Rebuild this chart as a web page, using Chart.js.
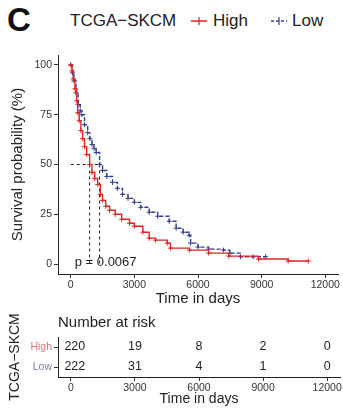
<!DOCTYPE html>
<html>
<head>
<meta charset="utf-8">
<script src="https://cdn.jsdelivr.net/npm/chart.js@4"></script>
<style>
  body { margin:0; width:343px; height:408px; background:#fff; position:relative; overflow:hidden;
         font-family:"Liberation Sans", Arial, sans-serif; color:#222; }
  canvas { position:absolute; left:0; }
  .lbl { position:absolute; white-space:nowrap; }
</style>
</head>
<body>
<div class="lbl" style="left:7px;top:1px;font-size:33px;font-weight:bold;color:#111">C</div>
<div class="lbl" style="left:70px;top:11px;font-size:17px">TCGA−SKCM</div>
<svg class="lbl" style="left:190px;top:14px" width="18" height="14">
  <line x1="1" y1="7" x2="17" y2="7" stroke="#e02424" stroke-width="1.5"/>
  <line x1="9" y1="3" x2="9" y2="11" stroke="#e02424" stroke-width="1.2"/>
</svg>
<div class="lbl" style="left:213px;top:11px;font-size:17px">High</div>
<svg class="lbl" style="left:270px;top:14px" width="18" height="14">
  <line x1="1" y1="7" x2="17" y2="7" stroke="#34418a" stroke-width="1.5" stroke-dasharray="3 2"/>
  <line x1="9" y1="3" x2="9" y2="11" stroke="#34418a" stroke-width="1.2"/>
</svg>
<div class="lbl" style="left:292px;top:11px;font-size:17px">Low</div>

<canvas id="km" width="343" height="310" style="top:0"></canvas>
<canvas id="risk" width="343" height="98" style="top:310px"></canvas>

<script>
// survival curves (time in days, survival %)
const highTime = [0, 60, 120, 200, 280, 330, 400, 480, 560, 650, 750, 890, 1000, 1130, 1270, 1400, 1500, 1650, 1830, 2100, 2400, 2770, 3000, 3400, 3700, 4000, 4550, 4700, 5600, 6500, 7450, 8850, 10250, 11200];
const highSurv = [100, 97, 93, 88, 82, 76, 72, 67, 63, 59, 55, 50, 46, 43, 40, 35, 32, 29, 27, 25, 22.5, 20.5, 19, 16, 13, 12, 10.5, 8, 7, 5.5, 4, 2.5, 1.5, 1.5];
const lowTime = [0, 80, 150, 250, 350, 450, 520, 650, 800, 900, 1000, 1100, 1200, 1360, 1500, 1700, 1970, 2200, 2440, 2700, 3000, 3300, 3700, 4100, 4640, 4970, 5300, 5580, 5650, 6000, 6500, 7200, 7500, 8000, 8600, 9190];
const lowSurv = [100, 96, 92, 86, 80, 77, 75, 70, 66, 63, 60, 58, 56, 50, 47, 44, 41, 38, 35, 33, 31, 28.5, 26, 24, 21.5, 18, 16, 14.5, 10.5, 8.5, 7.5, 7, 5.5, 3.7, 3.7, 3.7];
const medianHigh = 890;
const medianLow = 1360;
const pValue = 'p = 0.0067';

const xTicks = [0, 3000, 6000, 9000, 12000];
const yTicks = [0, 25, 50, 75, 100];

// number at risk
const riskGroups = ['High', 'Low'];
const riskHigh = [220, 19, 8, 2, 0];
const riskLow = [222, 31, 4, 1, 0];

const RED = '#e02424';
const BLUE = '#34418a';
const FONT = '"Liberation Sans", Arial, sans-serif';

const pts = (ts, ss) => ts.map((t, i) => ({ x: t, y: ss[i] }));

const pText = {
  id: 'pText',
  afterDatasetsDraw(chart) {
    const { ctx, scales: { x, y } } = chart;
    ctx.save();
    ctx.font = '13px ' + FONT;
    ctx.fillStyle = '#222';
    ctx.textBaseline = 'middle';
    ctx.fillText(pValue, x.getPixelForValue(190), y.getPixelForValue(1));
    ctx.restore();
  }
};

new Chart(document.getElementById('km'), {
  type: 'line',
  data: {
    datasets: [
      { data: pts(highTime, highSurv), borderColor: RED, borderWidth: 1.4, stepped: true,
        pointStyle: 'cross', pointRadius: 2.5, pointBorderColor: RED, pointBorderWidth: 1 },
      { data: pts(lowTime, lowSurv), borderColor: BLUE, borderWidth: 1.4, stepped: true, borderDash: [4, 2],
        pointStyle: 'cross', pointRadius: 2.5, pointBorderColor: BLUE, pointBorderWidth: 1 },
      { data: [{ x: 0, y: 50 }, { x: medianLow, y: 50 }], borderColor: '#222', borderWidth: 1, borderDash: [3, 3], pointRadius: 0 },
      { data: [{ x: medianHigh, y: 50 }, { x: medianHigh, y: 0 }], borderColor: '#222', borderWidth: 1, borderDash: [3, 3], pointRadius: 0 },
      { data: [{ x: medianLow, y: 50 }, { x: medianLow, y: 0 }], borderColor: '#222', borderWidth: 1, borderDash: [3, 3], pointRadius: 0 }
    ]
  },
  options: {
    responsive: false,
    animation: false,
    layout: { padding: { top: 55, right: 3 } },
    plugins: { legend: { display: false }, tooltip: { enabled: false } },
    scales: {
      x: {
        type: 'linear', min: -600, max: 12600,
        afterBuildTicks: s => { s.ticks = xTicks.map(v => ({ value: v })); },
        afterFit: s => { s.height = 36; },
        grid: { drawOnChartArea: false, tickLength: 4, color: '#333' },
        border: { color: '#222', width: 1 },
        ticks: { font: { family: FONT, size: 10.5 }, color: '#333', padding: 1, maxRotation: 0, callback: v => String(v) },
        title: { display: true, text: 'Time in days', font: { family: FONT, size: 15 }, color: '#222', padding: { top: 0, bottom: 2 } }
      },
      y: {
        type: 'linear', min: -5, max: 105,
        afterBuildTicks: s => { s.ticks = yTicks.map(v => ({ value: v })); },
        afterFit: s => { s.width = 58; },
        grid: { drawOnChartArea: false, tickLength: 4, color: '#333' },
        border: { color: '#222', width: 1 },
        ticks: { font: { family: FONT, size: 10.5 }, color: '#333', padding: 2 },
        title: { display: true, text: 'Survival probability (%)', font: { family: FONT, size: 15 }, color: '#222', padding: { top: 9, bottom: 0 } }
      }
    }
  },
  plugins: [pText]
});

const riskText = {
  id: 'riskText',
  afterDatasetsDraw(chart) {
    const { ctx, scales: { x, y }, chartArea } = chart;
    ctx.save();
    ctx.fillStyle = '#222';
    ctx.font = '15px ' + FONT;
    ctx.textBaseline = 'middle';
    ctx.textAlign = 'left';
    ctx.fillText('Number at risk', chartArea.left, 13);
    ctx.font = '12.5px ' + FONT;
    ctx.textAlign = 'center';
    [riskHigh, riskLow].forEach((row, r) => {
      row.forEach((n, i) => {
        ctx.fillText(String(n), x.getPixelForValue(xTicks[i]) + (i === 0 ? 4 : 0), y.getPixelForValue(r));
      });
    });
    ctx.restore();
  }
};

new Chart(document.getElementById('risk'), {
  type: 'scatter',
  data: { datasets: [{ data: [] }] },
  options: {
    responsive: false,
    animation: false,
    layout: { padding: { top: 27, right: 3 } },
    plugins: { legend: { display: false }, tooltip: { enabled: false } },
    scales: {
      x: {
        type: 'linear', min: -600, max: 12600,
        afterBuildTicks: s => { s.ticks = xTicks.map(v => ({ value: v })); },
        afterFit: s => { s.height = 31; },
        grid: { drawOnChartArea: false, tickLength: 4, color: '#333' },
        border: { color: '#222', width: 1 },
        ticks: { font: { family: FONT, size: 10.5 }, color: '#333', padding: 1, maxRotation: 0, callback: v => String(v) },
        title: { display: true, text: 'Time in days', font: { family: FONT, size: 14 }, color: '#222', padding: 0 }
      },
      y: {
        type: 'category', labels: riskGroups, offset: true,
        afterFit: s => { s.width = 58; },
        grid: { drawOnChartArea: false, tickLength: 4, color: '#333', offset: false },
        border: { color: '#222', width: 1 },
        ticks: { font: { family: FONT, size: 10.5 }, padding: 2,
                 color: c => c.index === 0 ? '#e07a7a' : '#7a80a8' },
        title: { display: true, text: 'TCGA−SKCM', font: { family: FONT, size: 14 }, color: '#222', padding: { top: 7, bottom: 0 } }
      }
    }
  },
  plugins: [riskText]
});
</script>
</body>
</html>
